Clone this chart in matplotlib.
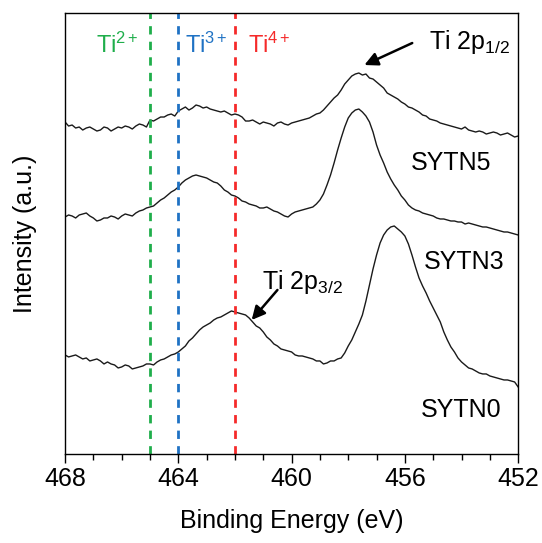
import numpy as np
import matplotlib
matplotlib.use("Agg")
import matplotlib.pyplot as plt

plt.rcParams['font.family'] = ['Liberation Sans', 'DejaVu Sans']
plt.rcParams['mathtext.fontset'] = 'custom'
plt.rcParams['mathtext.rm'] = 'Liberation Sans'
plt.rcParams['mathtext.it'] = 'Liberation Sans'

# binding energy grid (eV), 468 -> 452 in 0.125 eV steps
energy = np.linspace(468, 452, 129)

# intensities (arbitrary units, stacked offsets)
sytn5 = [332, 328, 329, 326, 327, 324, 326, 327, 325, 323,
         324, 327, 326, 323, 325, 327, 326, 328, 327, 325,
         328, 330, 329, 327, 334, 333, 335, 337, 337, 339,
         340, 338, 343, 345, 347, 344, 346, 349, 348, 346,
         347, 345, 344, 343, 342, 343, 341, 339, 340, 339,
         337, 333, 333, 334, 332, 330, 332, 331, 330, 328,
         331, 332, 330, 329, 331, 332, 333, 334, 335, 336,
         338, 340, 341, 344, 348, 352, 356, 359, 364, 370,
         374, 378, 380, 381, 379, 380, 376, 375, 372, 369,
         366, 361, 359, 357, 355, 352, 350, 347, 346, 344,
         342, 339, 338, 335, 334, 333, 331, 330, 329, 328,
         327, 326, 325, 327, 324, 323, 322, 323, 322, 320,
         321, 322, 321, 319, 320, 321, 319, 317, 318]
sytn3 = [237, 239, 238, 236, 239, 240, 241, 238, 236, 233,
         234, 236, 236, 238, 237, 235, 238, 240, 239, 238,
         241, 243, 244, 246, 247, 248, 251, 254, 256, 259,
         262, 264, 267, 271, 274, 276, 278, 279, 278, 277,
         276, 274, 272, 271, 268, 264, 262, 259, 258, 256,
         253, 252, 250, 249, 248, 246, 246, 247, 245, 243,
         242, 240, 238, 237, 240, 242, 243, 244, 245, 246,
         247, 250, 254, 260, 269, 279, 291, 304, 316, 327,
         336, 341, 344, 345, 342, 338, 332, 322, 309, 299,
         291, 282, 275, 269, 264, 258, 254, 249, 246, 244,
         243, 241, 240, 239, 238, 236, 235, 235, 234, 233,
         233, 232, 232, 230, 231, 230, 229, 228, 227, 227,
         226, 225, 224, 223, 222, 222, 221, 220, 219]
sytn0 = [99, 97, 98, 99, 97, 95, 96, 93, 94, 95,
         93, 90, 92, 90, 89, 86, 87, 89, 88, 85,
         86, 87, 88, 90, 90, 89, 92, 94, 95, 97,
         99, 100, 102, 105, 108, 113, 116, 120, 124, 127,
         129, 131, 134, 136, 137, 139, 141, 143, 142, 141,
         140, 139, 136, 132, 128, 126, 122, 117, 114, 110,
         108, 105, 104, 103, 102, 99, 98, 98, 97, 96,
         95, 93, 93, 90, 91, 93, 93, 95, 96, 101,
         108, 114, 122, 130, 139, 153, 169, 185, 199, 211,
         219, 224, 227, 228, 225, 222, 218, 210, 199, 187,
         176, 168, 161, 153, 146, 139, 132, 122, 114, 107,
         102, 96, 92, 89, 86, 85, 83, 81, 80, 80,
         78, 77, 76, 75, 74, 74, 73, 72, 67]

ref_energies = [465, 464, 462]
ref_labels = ['Ti$^{2+}$', 'Ti$^{3+}$', 'Ti$^{4+}$']
ref_colors = ['#1fae4b', '#1f72c4', '#f52a2a']

fig = plt.figure(figsize=(5.42, 5.43), dpi=100)
ax = fig.add_axes([0.120, 0.164, 0.836, 0.812])

for y in (sytn5, sytn3, sytn0):
    ax.plot(energy, y, color='#1a1a1a', lw=1.0)

for e, c in zip(ref_energies, ref_colors):
    ax.axvline(e, color=c, lw=2, ls=(0, (3, 2.6)))

# oxidation state labels
ax.text(466.17, 409, ref_labels[0], color=ref_colors[0], fontsize=17, ha='center', va='center')
ax.text(463.0, 409, ref_labels[1], color=ref_colors[1], fontsize=17, ha='center', va='center')
ax.text(460.78, 409, ref_labels[2], color=ref_colors[2], fontsize=17, ha='center', va='center')

arrow = dict(arrowstyle='-|>', color='black', lw=1.8, mutation_scale=20, shrinkA=0, shrinkB=0)
ax.annotate('', xy=(457.43, 389), xytext=(455.74, 411), arrowprops=arrow)
ax.text(455.14, 412, 'Ti 2p$_{1/2}$', fontsize=18, ha='left', va='center')
ax.annotate('', xy=(461.41, 134), xytext=(460.5, 164), arrowprops=arrow)
ax.text(461.06, 172, 'Ti 2p$_{3/2}$', fontsize=18, ha='left', va='center')

ax.text(454.36, 291, 'SYTN5', fontsize=18, ha='center', va='center')
ax.text(453.9, 192, 'SYTN3', fontsize=18, ha='center', va='center')
ax.text(454.0, 44, 'SYTN0', fontsize=18, ha='center', va='center')

ax.set_xlim(468, 452)
ax.set_ylim(0, 441)
ax.set_xticks(np.arange(468, 451, -4))
ax.set_xticks(np.arange(468, 451, -1), minor=True)
ax.set_yticks([])
ax.tick_params(axis='x', which='major', direction='out', length=6.5, width=1, labelsize=18, pad=3)
ax.tick_params(axis='x', which='minor', direction='out', length=4.5, width=1)
for s in ax.spines.values():
    s.set_linewidth(1)
ax.set_xlabel('Binding Energy (eV)', fontsize=18, labelpad=13)
ax.set_ylabel('Intensity (a.u.)', fontsize=18, labelpad=20)

fig.savefig('out.png', dpi=100)
